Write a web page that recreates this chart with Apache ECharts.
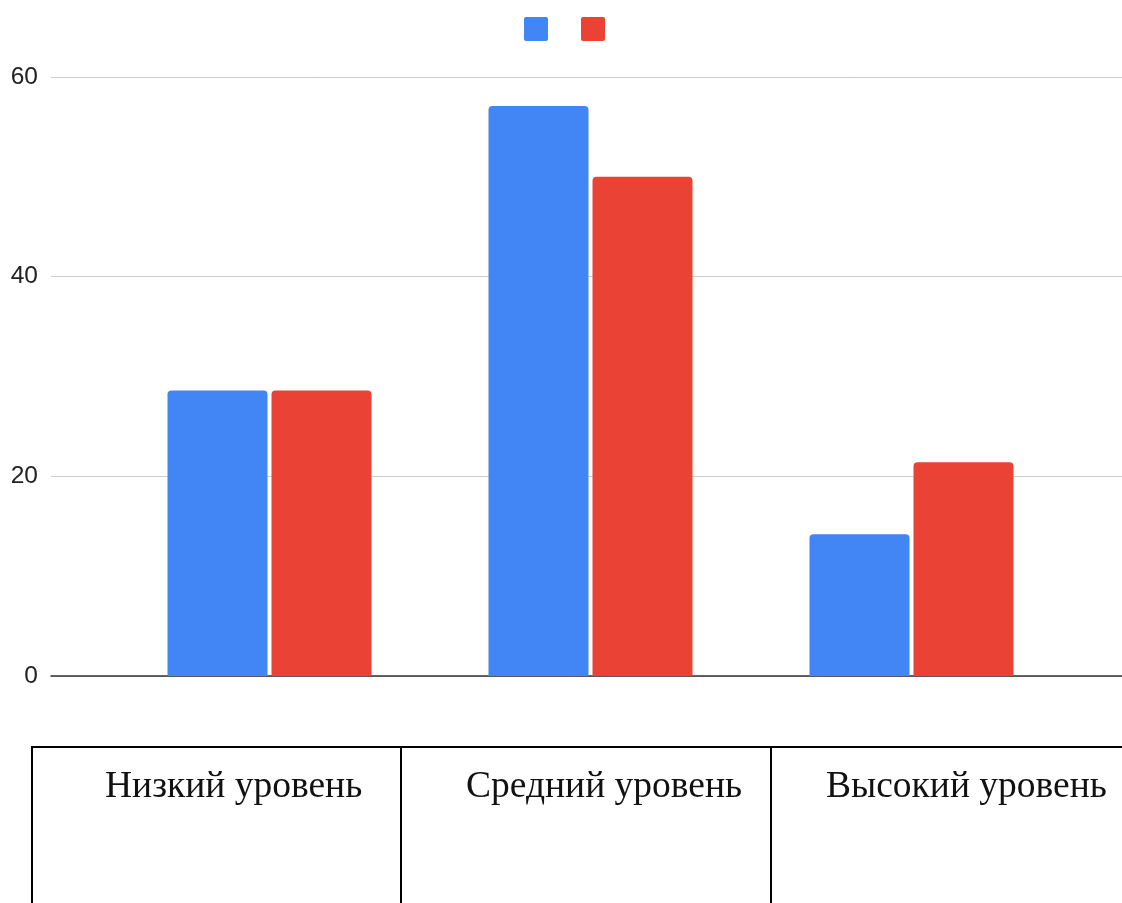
<!DOCTYPE html>
<html>
<head>
<meta charset="utf-8">
<script src="https://cdn.jsdelivr.net/npm/echarts@6/dist/echarts.min.js"></script>
<style>
  html, body { margin: 0; padding: 0; background: #fff; }
  #chart { width: 1122px; height: 903px; }
</style>
</head>
<body>
<div id="chart"></div>
<script>
// Category names and percentage values for the two groups
const categories = ['Низкий уровень', 'Средний уровень', 'Высокий уровень'];
const seriesBlue = [28.6, 57.1, 14.2];
const seriesRed = [28.6, 50.0, 21.4];
const yTicks = [0, 20, 40, 60];

const BLUE = '#4285F4';
const RED = '#EA4335';

const chart = echarts.init(document.getElementById('chart'), null, { renderer: 'canvas' });

// Table under the chart: lines and cell texts
const tableLeft = 32, tableTop = 747, tableBottom = 903;
const colEdges = [32, 401, 771];
const textX = [105, 466, 826];

const graphics = [];
graphics.push({
  type: 'line', silent: true,
  shape: { x1: tableLeft - 1, y1: tableTop, x2: 1122, y2: tableTop },
  style: { stroke: '#000', lineWidth: 2 }
});
colEdges.forEach(x => {
  graphics.push({
    type: 'line', silent: true,
    shape: { x1: x, y1: tableTop, x2: x, y2: tableBottom },
    style: { stroke: '#000', lineWidth: 2 }
  });
});
categories.forEach((name, i) => {
  graphics.push({
    type: 'text', silent: true,
    x: textX[i], y: 787,
    style: {
      text: name,
      fill: '#111',
      font: '37.5px "Liberation Serif", "Times New Roman", serif',
      align: 'left',
      verticalAlign: 'middle'
    }
  });
});

// small-radius square legend marker
const legendIcon = 'path://M2,0H22A2,2,0,0,1,24,2V22A2,2,0,0,1,22,24H2A2,2,0,0,1,0,22V2A2,2,0,0,1,2,0Z';

const option = {
  backgroundColor: '#fff',
  animation: false,
  legend: {
    left: 519,
    top: 12,
    itemWidth: 24,
    itemHeight: 24,
    itemGap: 33,
    icon: legendIcon,
    formatter: () => '',
    data: ['s1', 's2'],
    selectedMode: false
  },
  grid: [
    // full-width plot frame: gridlines, y labels, baseline
    { left: 51, right: 0, top: 77, height: 599 },
    // bar area
    { left: 109, width: 963, top: 77, height: 599 }
  ],
  xAxis: [
    {
      gridIndex: 0, type: 'category', data: categories,
      axisLine: { show: true, lineStyle: { color: '#333', width: 1.5 } },
      axisTick: { show: false }, axisLabel: { show: false }, splitLine: { show: false }
    },
    {
      gridIndex: 1, type: 'category', data: categories,
      axisLine: { show: false }, axisTick: { show: false }, axisLabel: { show: false }
    }
  ],
  yAxis: [
    {
      gridIndex: 0, type: 'value', min: yTicks[0], max: yTicks[yTicks.length - 1], interval: 20,
      axisLine: { show: false }, axisTick: { show: false },
      axisLabel: {
        color: '#222', fontSize: 24.5, margin: 13,
        fontFamily: '"Liberation Sans", Arial, sans-serif'
      },
      splitLine: { show: true, lineStyle: { color: '#cccccc', width: 1 } }
    },
    {
      gridIndex: 1, type: 'value', min: yTicks[0], max: yTicks[yTicks.length - 1], interval: 20,
      show: false, splitLine: { show: false }
    }
  ],
  series: [
    {
      name: 's1', type: 'bar', xAxisIndex: 1, yAxisIndex: 1,
      data: seriesBlue, barWidth: 100, barGap: '4%',
      itemStyle: { color: BLUE, borderRadius: [4, 4, 0, 0] }
    },
    {
      name: 's2', type: 'bar', xAxisIndex: 1, yAxisIndex: 1,
      data: seriesRed, barWidth: 100, barGap: '4%',
      itemStyle: { color: RED, borderRadius: [4, 4, 0, 0] }
    }
  ],
  graphic: graphics
};

chart.setOption(option);
</script>
</body>
</html>
